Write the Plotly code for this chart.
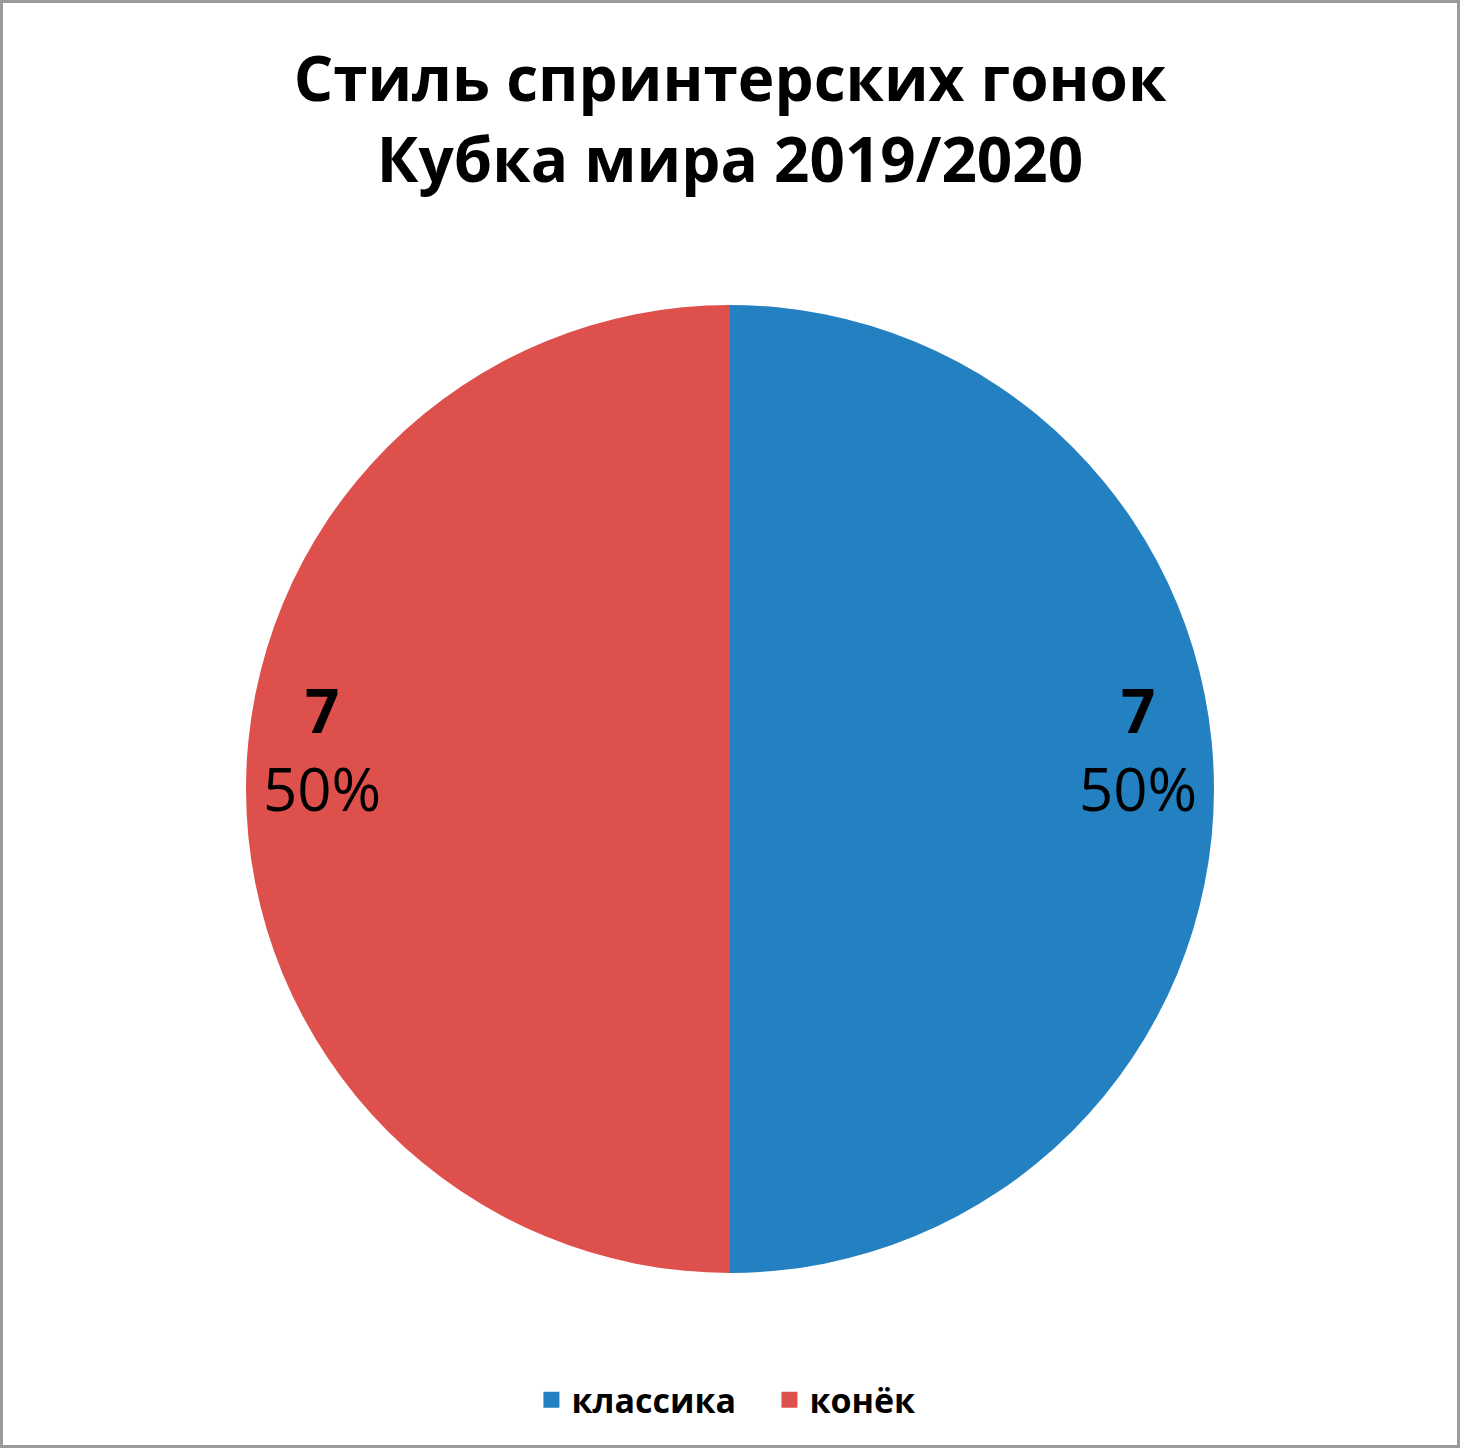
import math
import plotly.graph_objects as go

# data
styles = ["классика", "конёк"]
races = [7, 7]
colors = ["#2481C1", "#DE504C"]

FONT = "Open Sans"
W, H = 1460, 1448

# pie placement (paper fractions, margins are zero so paper == page)
dom_x = [0.1685, 0.8315]
dom_y = [0.1209, 0.7894]
label_r = 0.843  # labels sit near the rim, like the Excel original

fig = go.Figure()

fig.add_trace(go.Pie(
    labels=styles,
    values=races,
    sort=False,
    direction="clockwise",
    rotation=0,
    marker=dict(colors=colors, line=dict(width=0)),
    textinfo="none",
    domain=dict(x=dom_x, y=dom_y),
    hoverinfo="label+value+percent",
    showlegend=False,
))

# legend-only entries with bigger square swatches
for name, c in zip(styles, colors):
    fig.add_trace(go.Scatter(
        x=[None], y=[None], mode="markers", name=name,
        marker=dict(symbol="square", size=22, color=c),
    ))

# data labels: value (bold) + percent, placed along each slice's mid angle
cx = (dom_x[0] + dom_x[1]) / 2 * W
cy = (1 - (dom_y[0] + dom_y[1]) / 2) * H
r_px = min((dom_x[1] - dom_x[0]) * W, (dom_y[1] - dom_y[0]) * H) / 2
total = sum(races)
cum = 0
for v in races:
    mid = (cum + v / 2) / total
    cum += v
    ang = math.pi / 2 - 2 * math.pi * mid
    px = cx + r_px * label_r * math.cos(ang)
    py = cy - r_px * label_r * math.sin(ang)
    fig.add_annotation(
        x=px / W, y=1 - py / H, xref="paper", yref="paper",
        text=f"<b>{v}</b><br>{v / total:.0%}",
        showarrow=False, xanchor="center", yanchor="middle", yshift=40,
        font=dict(family=FONT, size=60, color="black"),
    )

fig.update_layout(
    width=W, height=H,
    margin=dict(l=0, r=0, t=0, b=0),
    paper_bgcolor="white",
    plot_bgcolor="white",
    xaxis=dict(visible=False),
    yaxis=dict(visible=False),
    title=dict(
        text="<b>Стиль спринтерских гонок<br>Кубка мира 2019/2020</b>",
        x=0.5, xanchor="center",
        y=0.93, yanchor="middle",
        font=dict(family=FONT, size=62, color="black"),
    ),
    showlegend=True,
    legend=dict(
        orientation="h",
        x=0.527, xanchor="center",
        y=0.033, yanchor="middle",
        font=dict(family=FONT, size=34, color="black", weight="bold"),
        itemwidth=30,
        entrywidth=193,
    ),
    shapes=[dict(type="rect", xref="paper", yref="paper",
                 x0=0.001, x1=0.999, y0=0.001, y1=0.999,
                 line=dict(color="#9A9A9A", width=3))],
)

fig.write_html("out.html", config={"displayModeBar": False},
               post_script="document.body.style.margin='0';")
